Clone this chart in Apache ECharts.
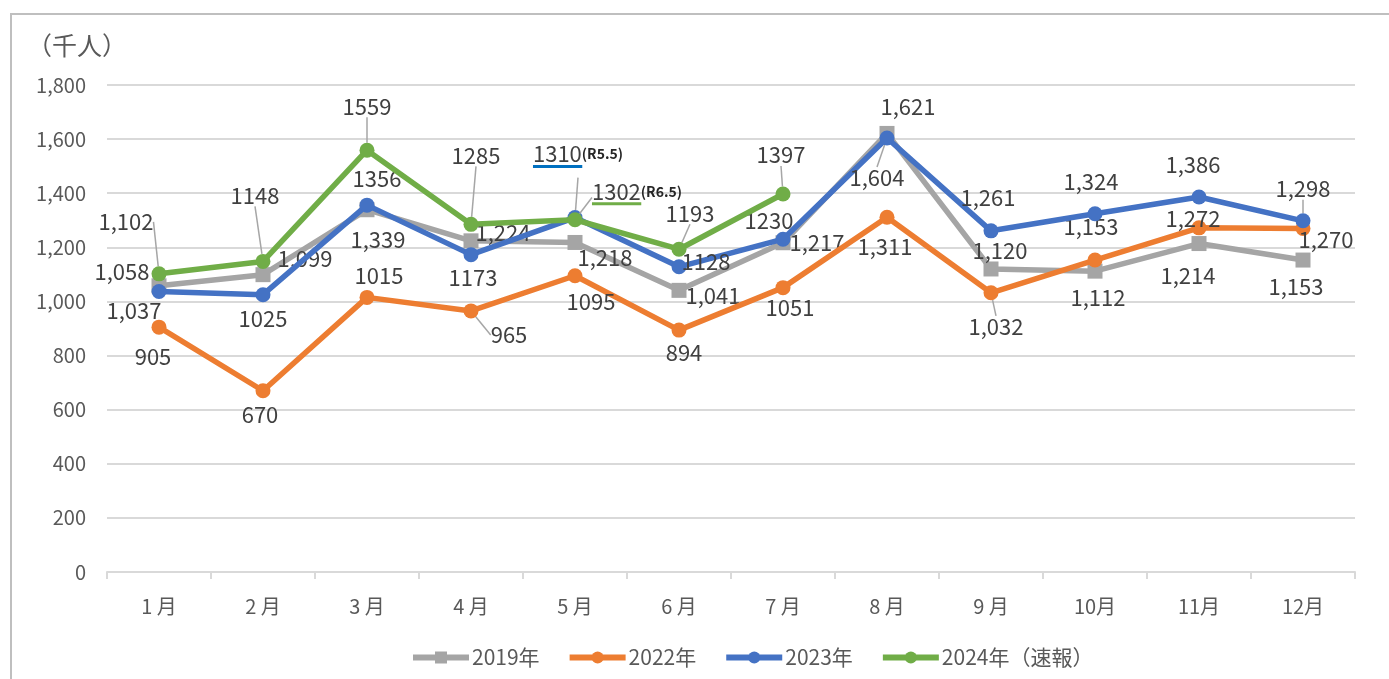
<!DOCTYPE html>
<html><head><meta charset="utf-8">
<script src="https://cdn.jsdelivr.net/npm/echarts@6/dist/echarts.min.js"></script>
<style>
html,body{margin:0;padding:0;background:#fff;overflow:hidden}
#frame{position:absolute;left:10px;top:13px;width:1400px;height:700px;border:2px solid #bfbfbf;box-sizing:border-box}
#c{position:absolute;left:0;top:0;width:1389px;height:679px}
</style></head>
<body><div id="frame"></div><div id="c"></div>
<script>
// ---- data ----
const months = ['1 月','2 月','3 月','4 月','5 月','6 月','7 月','8 月','9 月','10月','11月','12月'];
const seriesNames = ['2019年','2022年','2023年','2024年（速報）'];
const v2019 = [1058,1099,1339,1224,1218,1041,1217,1621,1120,1112,1214,1153];
const v2022 = [905,670,1015,965,1095,894,1051,1311,1032,1153,1272,1270];
const v2023 = [1037,1025,1356,1173,1310,1128,1230,1604,1261,1324,1386,1298];
const v2024 = [1102,1148,1559,1285,1302,1193,1397];
const yTicks = {min:0, max:1800, interval:200};
// label notes for May values
const notes2023 = {4:'(R5.5)'};
const notes2024 = {4:'(R6.5)'};

// ---- label layout (offsets of label centre from point, px) ----
const offs = [
  [[-37,-14],[42,-16],[11,30],[32,-8],[30,15],[34,5],[34,0],[21,-27],[9,-18],[3,26],[-11,32],[-7,27]],
  [[-6,29],[-3,24],[12,-22],[38,24],[16,26],[5,23],[7,20],[-2,29],[5,34],[-4,-33],[-6,-9],[23,11]],
  [[-25,19],[0,24],[10,-26],[2,23],[3,-62],[27,-5],[-14,-19],[-10,40],[-3,-33],[-4,-32],[-6,-32],[0,-32]],
  [[-33,-52],[-8,-66],[0,-44],[5,-69],[62,-27],[11,-36],[-2,-39]]
];
const leaders = [
  [],
  [3,8],
  [4,7,11],
  [0,1,2,3,4,5,6]
];
const colors = ['#a5a5a5','#ed7d31','#4472c4','#70ad47'];
const FONT = '"Noto Sans CJK JP", "Noto Sans", sans-serif';
const LABEL_SIZE = 22;

function fmt(seriesIdx, i, v){
  const comma = seriesIdx === 0 || i === 0 || i >= 7;
  return comma ? v.toLocaleString('en-US') : String(v);
}

function buildData(si, values, notes){
  return values.map((v,i)=>{
    const item = {value:v, labelLine:{show: leaders[si].indexOf(i) >= 0}};
    let txt = fmt(si,i,v);
    if (notes && notes[i]) {
      const w = txt.length * LABEL_SIZE * 0.56;
      item.label = {
        formatter: '{v|' + txt + '}{s|' + notes[i] + '}\n{u|}',
        rich: {
          v:{fontSize:LABEL_SIZE, color:'#404040', fontFamily:FONT, lineHeight:22},
          s:{fontSize:14, color:'#262626', fontFamily:FONT, fontWeight:'bold', lineHeight:22},
          u:{backgroundColor: si===2 ? '#0070c0' : '#70ad47', height:3, width:w, align:'left', lineHeight:3}
        }
      };
    } else {
      item.label = {formatter: txt};
    }
    return item;
  });
}

const allValues = [v2019, v2022, v2023, v2024];
const allNotes = [null, null, notes2023, notes2024];

const series = allValues.map((vals, si)=>({
  name: seriesNames[si],
  type: 'line',
  data: buildData(si, vals, allNotes[si]),
  symbol: si===0 ? 'rect' : 'circle',
  symbolSize: 15,
  lineStyle: {width: 5.5, color: colors[si]},
  itemStyle: {color: colors[si]},
  z: 2 + si,
  label: {
    show: true, position: 'inside',
    fontSize: LABEL_SIZE, color: '#404040', fontFamily: FONT
  },
  labelLine: {show: false, lineStyle:{color:'#a6a6a6', width:1.5}},
  labelLayout: function(p){
    const o = offs[p.seriesIndex][p.dataIndex];
    return {dx:o[0], dy:o[1], hideOverlap:false};
  },
  animation: false
}));

const chart = echarts.init(document.getElementById('c'));
chart.setOption({
  animation: false,
  color: colors,
  textStyle: {fontFamily: FONT},
  title: {
    text: '（千人）', left: 22, top: 28,
    textStyle: {fontSize: 25, fontWeight: 'normal', color: '#595959', fontFamily: FONT}
  },
  grid: {left: 107, right: 34, top: 85, bottom: 107},
  legend: {
    top: 642, left: 405, itemWidth: 56, itemHeight: 15, itemGap: 27,
    lineStyle: {width: 6},
    textStyle: {fontSize: 21, color: '#595959', fontFamily: FONT, padding:[0,0,0,-2]},
    data: seriesNames
  },
  xAxis: {
    type: 'category', data: months, boundaryGap: true,
    axisLine: {lineStyle: {color: '#d9d9d9', width: 2}},
    axisTick: {show: true, length: 7, lineStyle: {color: '#d9d9d9', width: 2}},
    axisLabel: {fontSize: 20, color: '#595959', margin: 24, fontFamily: FONT}
  },
  yAxis: {
    type: 'value', min: yTicks.min, max: yTicks.max, interval: yTicks.interval,
    axisLine: {show: false}, axisTick: {show: false},
    splitLine: {lineStyle: {color: '#d9d9d9', width: 2}},
    axisLabel: {fontSize: 20, color: '#595959', margin: 21, fontFamily: FONT,
      formatter: v => v.toLocaleString('en-US')}
  },
  series: series
});
</script>
</body></html>
